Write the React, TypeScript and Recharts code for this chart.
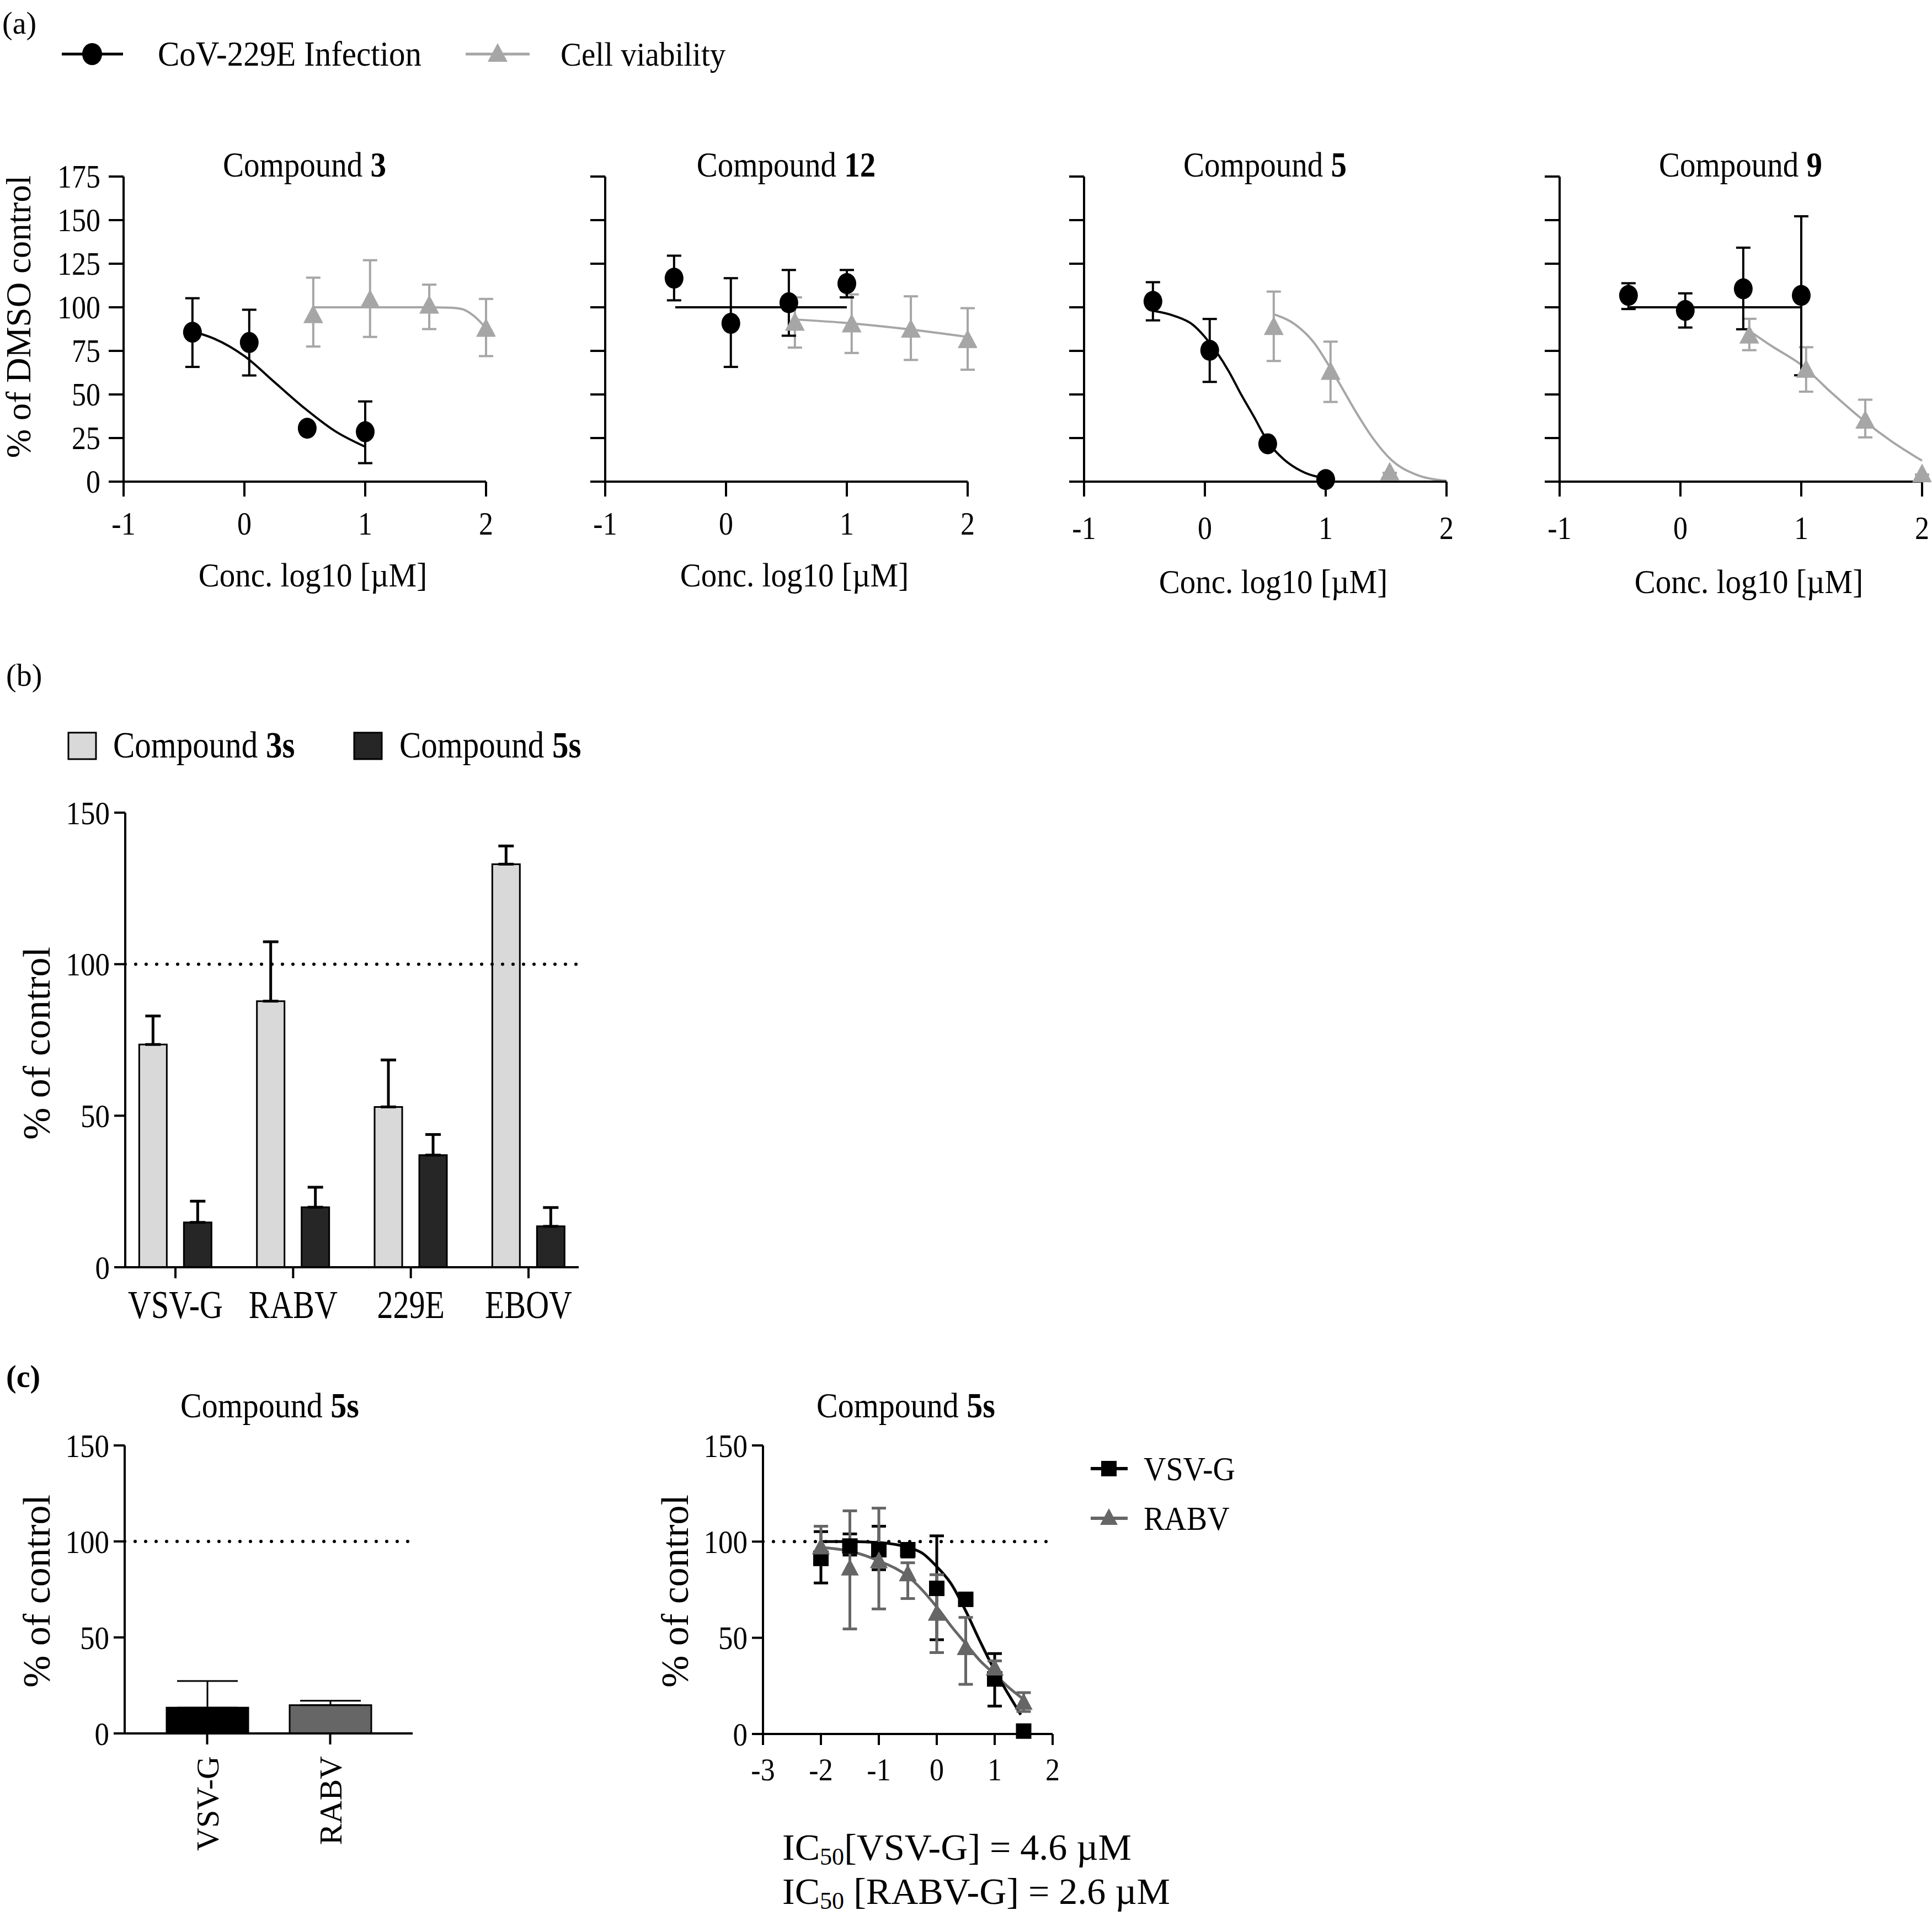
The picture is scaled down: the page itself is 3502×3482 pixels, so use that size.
import React from "react";
import {
  ComposedChart,
  Line,
  Scatter,
  Bar,
  XAxis,
  YAxis,
  ErrorBar,
  ReferenceLine,
  Cell,
} from "recharts";

const FONT = '"Liberation Serif", "Times New Roman", serif';
const GRAY = "#a6a6a6";
const DARK = "#666666";

// ---- (a) CoV-229E dose response ----
const infX = [-0.43, 0.04, 0.52, 1.0];
const viaX = [0.57, 1.04, 1.53, 2.0];

const c3Inf = [85.7, 79.8, 30.6, 28.6];
const c3InfHi = [105.2, 98.6, 30.6, 46];
const c3InfLo = [65.8, 60.9, 30.6, 10.6];
const c3Via = [95.3, 104, 100.8, 87.5];
const c3ViaHi = [117, 127, 113, 104.8];
const c3ViaLo = [77.5, 83, 87.5, 72];
const c3InfFitX = [-0.42, -0.25, 0, 0.25, 0.5, 0.75, 1.0];
const c3InfFitY = [86, 82, 72, 57, 42, 29, 20];
const c3ViaFitX = [0.57, 1.0, 1.5, 1.7, 1.8, 1.9, 2.0];
const c3ViaFitY = [100, 100, 100, 99.8, 99, 95, 88];

const c12Inf = [116.7, 90.8, 102.6, 113.6];
const c12InfHi = [129.6, 116.7, 121.4, 121.4];
const c12InfLo = [104, 65.8, 83.7, 105.7];
const c12Via = [91, 90, 87, 81];
const c12ViaHi = [105.7, 107.4, 106.3, 99.5];
const c12ViaLo = [76.9, 73.8, 69.8, 64.2];
const c12InfFitX = [-0.42, 1.0];
const c12InfFitY = [100, 100];
const c12ViaFitX = [0.57, 1.0, 1.5, 2.0];
const c12ViaFitY = [93, 91, 87.5, 83];

const c5Inf = [103.4, 75.3, 21.7, 1.2];
const c5InfHi = [114.4, 93.3, 21.7, 1.2];
const c5InfLo = [92.5, 57.2, 21.7, 1.2];
const c5ViaX = [0.57, 1.04, 1.53];
const c5Via = [88.5, 62.8, 5];
const c5ViaHi = [109, 80.3, 5];
const c5ViaLo = [69.2, 45.7, 5];
const c5InfFitX = [-0.43, -0.25, -0.1, 0, 0.1, 0.2, 0.3, 0.4, 0.53, 0.65, 0.8, 1.05];
const c5InfFitY = [98, 95, 90, 83, 74, 63, 50, 38, 22, 13, 6, 1.5];
const c5ViaFitX = [0.57, 0.75, 0.9, 1.04, 1.15, 1.25, 1.4, 1.55, 1.75, 2.0];
const c5ViaFitY = [96, 90, 80, 65, 52, 40, 24, 12, 4, 0.5];

const c9Inf = [106.8, 98.2, 110.6, 106.8];
const c9InfHi = [113.8, 108, 134.2, 152.2];
const c9InfLo = [99, 88.4, 87.4, 61];
const c9Via = [83.6, 64, 34.8, 4];
const c9ViaHi = [93.4, 77.1, 47, 4];
const c9ViaLo = [75.4, 51.6, 25.4, 4];
const c9InfFitX = [-0.42, 1.0];
const c9InfFitY = [100, 100];
const c9ViaFitX = [0.56, 0.75, 1.0, 1.25, 1.5, 1.75, 2.0];
const c9ViaFitY = [87, 78, 67, 51, 36, 23, 12];

// ---- (b) pseudovirus panel ----
const bCats = ["VSV-G", "RABV", "229E", "EBOV"];
const b3s = [73.5, 87.8, 52.9, 133];
const b3sErr = [9.4, 19.6, 15.5, 6];
const b5s = [14.8, 19.8, 37, 13.5];
const b5sErr = [7, 6.6, 6.8, 6.2];

// ---- (c) compound 5s ----
const cCats = ["VSV-G", "RABV"];
const cVals = [13.4, 14.7];
const cErr = [13.9, 2.3];
const cColors = ["#000000", DARK];

const drX = [-2, -1.5, -1, -0.5, 0, 0.5, 1, 1.5];
const vsv = [91.3, 97.7, 95.8, 95.8, 75.7, 70, 28.6, 1.5];
const vsvHi = [105.2, 104, 108, 99, 103, 72, 41.8, 1.5];
const vsvLo = [78.5, 93, 85.4, 92, 49, 68, 14.5, 1.5];
const rabv = [97, 86, 89.8, 83, 62.5, 44.6, 34, 16.2];
const rabvHi = [108, 116, 117.4, 89, 82.8, 60.6, 38, 21.5];
const rabvLo = [88, 54.6, 65, 70.4, 42.3, 25.8, 30, 11.7];
const vsvFitX = [-2, -1.5, -1, -0.5, -0.25, 0, 0.25, 0.5, 0.75, 1, 1.25, 1.45];
const vsvFitY = [100, 100, 99.5, 97, 94, 87, 78, 64, 48, 33, 20, 10];
const rabvFitX = [-2, -1.5, -1, -0.5, 0, 0.25, 0.5, 0.75, 1, 1.25, 1.5];
const rabvFitY = [97, 95, 90, 82, 66, 56, 47, 38, 31, 24, 18];

const pts = (xs: number[], ys: number[], hi: number[], lo: number[]) =>
  xs.map((x, i) => ({ x, y: ys[i], err: [ys[i] - lo[i], hi[i] - ys[i]] }));
const fit = (xs: number[], ys: number[]) => xs.map((x, i) => ({ x, y: ys[i] }));

const AX = { stroke: "#000", strokeWidth: 4 };

function mkTick(fs: number, sy: number, side: "bottom" | "left", fmt?: (v: any) => string) {
  return (p: any) => {
    const v = fmt ? fmt(p.payload.value) : String(p.payload.value);
    return (
      <g transform={`translate(${p.x},${p.y}) scale(1,${sy})`}>
        <text
          x={0}
          y={0}
          dy={side === "left" ? 0.35 * fs : 0.71 * fs}
          textAnchor={side === "left" ? "end" : "middle"}
          fontSize={fs}
          fill="#000"
          fontFamily={FONT}
        >
          {v}
        </text>
      </g>
    );
  };
}

// tick lines only, no labels
const noLabel = () => <g />;

const rotTick = (p: any) => (
  <text
    x={p.x}
    y={p.y}
    dy={0.35 * 58}
    transform={`rotate(-90, ${p.x}, ${p.y})`}
    textAnchor="end"
    fontSize={58}
    fill="#000"
    fontFamily={FONT}
  >
    {p.payload.value}
  </text>
);

const Dot = (p: any) => <ellipse cx={p.cx} cy={p.cy} rx={17} ry={19} fill="#000" />;
const Tri = (color: string, s: number) => (p: any) =>
  (
    <polygon
      points={`${p.cx},${p.cy - s} ${p.cx - s * 0.9},${p.cy + s * 0.7} ${p.cx + s * 0.9},${p.cy + s * 0.7}`}
      fill={color}
    />
  );
const Sq = (p: any) => <rect x={p.cx - 14} y={p.cy - 14} width={28} height={28} fill="#000" />;

function Txt(props: {
  x: number;
  y: number;
  fs: number;
  sy?: number;
  anchor?: "start" | "middle";
  rotate?: boolean;
  bold?: boolean;
  children: React.ReactNode;
}) {
  const { x, y, fs, sy = 1, anchor = "start", rotate, bold, children } = props;
  const tx = anchor === "middle" || rotate ? "-50%" : "0";
  return (
    <div
      style={{
        position: "absolute",
        left: x,
        top: y,
        fontSize: fs,
        lineHeight: 1,
        whiteSpace: "nowrap",
        fontWeight: bold ? "bold" : "normal",
        transform: `translate(${tx}, -50%) ${rotate ? "rotate(-90deg)" : ""} scale(1, ${sy})`,
      }}
    >
      {children}
    </div>
  );
}

function DoseChart(props: {
  left: number;
  inf: any[];
  infFit: any[];
  via: any[];
  viaFit: any[];
  labels: boolean;
  gap: number;
}) {
  const ML = 140,
    MT = 40,
    MR = 17,
    MB = 150;
  const W = 657,
    H = 553;
  return (
    <div style={{ position: "absolute", left: props.left - ML, top: 320 - MT }}>
      <ComposedChart
        width={W + ML + MR}
        height={H + MT + MB}
        margin={{ top: MT, right: MR, left: 0, bottom: 0 }}
      >
        <XAxis
          type="number"
          dataKey="x"
          domain={[-1, 2]}
          ticks={[-1, 0, 1, 2]}
          interval={0}
          height={MB}
          tickSize={27}
          tickMargin={props.gap}
          axisLine={AX}
          tickLine={AX}
          tick={mkTick(52, 1.12, "bottom")}
        />
        <YAxis
          type="number"
          dataKey="y"
          domain={[0, 175]}
          ticks={[0, 25, 50, 75, 100, 125, 150, 175]}
          interval={0}
          width={ML}
          tickSize={27}
          tickMargin={15}
          axisLine={AX}
          tickLine={AX}
          tick={props.labels ? mkTick(52, 1.12, "left") : noLabel}
        />
        <Line
          data={props.viaFit}
          dataKey="y"
          type="monotone"
          stroke={GRAY}
          strokeWidth={4}
          dot={false}
          isAnimationActive={false}
        />
        <Line
          data={props.infFit}
          dataKey="y"
          type="monotone"
          stroke="#000"
          strokeWidth={4}
          dot={false}
          isAnimationActive={false}
        />
        <Scatter data={props.via} dataKey="y" shape={Tri(GRAY, 20)} isAnimationActive={false}>
          <ErrorBar dataKey="err" direction="y" width={13} stroke={GRAY} strokeWidth={4} />
        </Scatter>
        <Scatter data={props.inf} dataKey="y" shape={Dot} isAnimationActive={false}>
          <ErrorBar dataKey="err" direction="y" width={13} stroke="#000" strokeWidth={4} />
        </Scatter>
      </ComposedChart>
    </div>
  );
}

const bData = bCats.map((c, i) => ({
  x: i,
  a: b3s[i],
  ea: [0, b3sErr[i]],
  b: b5s[i],
  eb: [0, b5sErr[i]],
}));

const cData = cCats.map((c, i) => ({ name: c, v: cVals[i], e: [0, cErr[i]] }));

const doseLefts = [224, 1097, 1965, 2827];
const doseTitles = ["3", "12", "5", "9"];

const subStyle = { fontSize: "0.65em", verticalAlign: "-0.2em", lineHeight: 0 };

export default function App() {
  const aCharts = [
    {
      inf: pts(infX, c3Inf, c3InfHi, c3InfLo),
      via: pts(viaX, c3Via, c3ViaHi, c3ViaLo),
      infFit: fit(c3InfFitX, c3InfFitY),
      viaFit: fit(c3ViaFitX, c3ViaFitY),
    },
    {
      inf: pts(infX, c12Inf, c12InfHi, c12InfLo),
      via: pts(viaX, c12Via, c12ViaHi, c12ViaLo),
      infFit: fit(c12InfFitX, c12InfFitY),
      viaFit: fit(c12ViaFitX, c12ViaFitY),
    },
    {
      inf: pts(infX, c5Inf, c5InfHi, c5InfLo),
      via: pts(c5ViaX, c5Via, c5ViaHi, c5ViaLo),
      infFit: fit(c5InfFitX, c5InfFitY),
      viaFit: fit(c5ViaFitX, c5ViaFitY),
    },
    {
      inf: pts(infX, c9Inf, c9InfHi, c9InfLo),
      via: pts(viaX, c9Via, c9ViaHi, c9ViaLo),
      infFit: fit(c9InfFitX, c9InfFitY),
      viaFit: fit(c9ViaFitX, c9ViaFitY),
    },
  ];

  const vsvPts = pts(drX, vsv, vsvHi, vsvLo);
  const rabvPts = pts(drX, rabv, rabvHi, rabvLo);

  return (
    <div
      style={{
        position: "fixed",
        left: 0,
        top: 0,
        width: 3502,
        height: 3482,
        overflow: "hidden",
        background: "#fff",
        fontFamily: FONT,
        color: "#000",
      }}
    >
      {/* ---------- (a) ---------- */}
      <Txt x={4} y={42} fs={56}>(a)</Txt>
      <svg style={{ position: "absolute", left: 0, top: 0 }} width={1100} height={160}>
        <line x1={112} y1={98} x2={223} y2={98} stroke="#000" strokeWidth={5} />
        <ellipse cx={167} cy={98} rx={18} ry={20} fill="#000" />
        <line x1={844} y1={98} x2={960} y2={98} stroke={GRAY} strokeWidth={5} />
        <polygon points="902,78 884,112 920,112" fill={GRAY} />
      </svg>
      <Txt x={286} y={98} fs={59} sy={1.08}>CoV-229E Infection</Txt>
      <Txt x={1016} y={98} fs={57} sy={1.08}>Cell viability</Txt>

      {aCharts.map((c, i) => (
        <React.Fragment key={i}>
          <Txt x={doseLefts[i] + 328} y={299} fs={57} sy={1.1} anchor="middle">
            Compound <b>{doseTitles[i]}</b>
          </Txt>
          <DoseChart
            left={doseLefts[i]}
            inf={c.inf}
            via={c.via}
            infFit={c.infFit}
            viaFit={c.viaFit}
            labels={i === 0}
            gap={i < 2 ? 28 : 36}
          />
          <Txt x={doseLefts[i] + 343} y={i < 2 ? 1042 : 1054} fs={57} sy={1.06} anchor="middle">
            Conc. log10 [µM]
          </Txt>
        </React.Fragment>
      ))}
      <Txt x={34} y={574} fs={63} rotate>
        % of DMSO control
      </Txt>

      {/* ---------- (b) ---------- */}
      <Txt x={11} y={1224} fs={56}>(b)</Txt>
      <svg style={{ position: "absolute", left: 0, top: 1300 }} width={760} height={100}>
        <rect x={124} y={28} width={50} height={48} fill="#d9d9d9" stroke="#000" strokeWidth={3} />
        <rect x={642} y={28} width={50} height={48} fill="#262626" stroke="#000" strokeWidth={3} />
      </svg>
      <Txt x={205} y={1351} fs={59} sy={1.15}>
        Compound <b>3s</b>
      </Txt>
      <Txt x={724} y={1351} fs={59} sy={1.15}>
        Compound <b>5s</b>
      </Txt>
      <div style={{ position: "absolute", left: 227 - 130, top: 1473 - 40 }}>
        <ComposedChart
          width={822 + 130 + 20}
          height={824 + 40 + 120}
          margin={{ top: 40, right: 20, left: 0, bottom: 0 }}
          data={bData}
          barSize={50}
          barGap={31}
        >
          <XAxis
            type="number"
            dataKey="x"
            domain={[-0.4266, 3.4266]}
            ticks={[0, 1, 2, 3]}
            interval={0}
            height={120}
            tickSize={20}
            tickMargin={21}
            axisLine={AX}
            tickLine={AX}
            tick={mkTick(58, 1.25, "bottom", (v) => bCats[v])}
          />
          <YAxis
            type="number"
            domain={[0, 150]}
            ticks={[0, 50, 100, 150]}
            interval={0}
            width={130}
            tickSize={20}
            tickMargin={8}
            axisLine={AX}
            tickLine={AX}
            tick={mkTick(53, 1.12, "left")}
          />
          <ReferenceLine y={100} stroke="#000" strokeWidth={6} strokeDasharray="0 19" strokeLinecap="round" />
          <Bar dataKey="a" fill="#d9d9d9" stroke="#000" strokeWidth={3} isAnimationActive={false}>
            <ErrorBar dataKey="ea" direction="y" width={14} stroke="#000" strokeWidth={5} />
          </Bar>
          <Bar dataKey="b" fill="#262626" stroke="#000" strokeWidth={3} isAnimationActive={false}>
            <ErrorBar dataKey="eb" direction="y" width={14} stroke="#000" strokeWidth={5} />
          </Bar>
        </ComposedChart>
      </div>
      <Txt x={67} y={1891} fs={70} rotate>
        % of control
      </Txt>

      {/* ---------- (c) ---------- */}
      <Txt x={11} y={2495} fs={56} bold>(c)</Txt>
      <Txt x={489} y={2548} fs={58} sy={1.1} anchor="middle">
        Compound <b>5s</b>
      </Txt>
      <div style={{ position: "absolute", left: 226 - 130, top: 2620 - 40 }}>
        <ComposedChart
          width={522 + 130 + 20}
          height={522 + 40 + 260}
          margin={{ top: 40, right: 20, left: 0, bottom: 0 }}
          data={cData}
          barSize={148}
        >
          <XAxis
            type="category"
            dataKey="name"
            padding={{ left: 38, right: 38 }}
            interval={0}
            height={260}
            tickSize={20}
            tickMargin={21}
            axisLine={AX}
            tickLine={AX}
            tick={rotTick}
          />
          <YAxis
            type="number"
            domain={[0, 150]}
            ticks={[0, 50, 100, 150]}
            interval={0}
            width={130}
            tickSize={20}
            tickMargin={8}
            axisLine={AX}
            tickLine={AX}
            tick={mkTick(53, 1.12, "left")}
          />
          <ReferenceLine y={100} stroke="#000" strokeWidth={6} strokeDasharray="0 19" strokeLinecap="round" />
          <Bar dataKey="v" stroke="#000" strokeWidth={3} isAnimationActive={false}>
            {cData.map((d, i) => (
              <Cell key={d.name} fill={cColors[i]} />
            ))}
            <ErrorBar dataKey="e" direction="y" width={55} stroke="#000" strokeWidth={3} />
          </Bar>
        </ComposedChart>
      </div>
      <Txt x={67} y={2884} fs={70} rotate>
        % of control
      </Txt>

      <Txt x={1642} y={2548} fs={58} sy={1.1} anchor="middle">
        Compound <b>5s</b>
      </Txt>
      <div style={{ position: "absolute", left: 1383 - 130, top: 2620 - 40 }}>
        <ComposedChart
          width={525 + 130 + 30}
          height={523 + 40 + 120}
          margin={{ top: 40, right: 30, left: 0, bottom: 0 }}
        >
          <XAxis
            type="number"
            dataKey="x"
            domain={[-3, 2]}
            ticks={[-3, -2, -1, 0, 1, 2]}
            interval={0}
            height={120}
            tickSize={20}
            tickMargin={23}
            axisLine={AX}
            tickLine={AX}
            tick={mkTick(52, 1.1, "bottom")}
          />
          <YAxis
            type="number"
            dataKey="y"
            domain={[0, 150]}
            ticks={[0, 50, 100, 150]}
            interval={0}
            width={130}
            tickSize={20}
            tickMargin={8}
            axisLine={AX}
            tickLine={AX}
            tick={mkTick(53, 1.12, "left")}
          />
          <ReferenceLine y={100} stroke="#000" strokeWidth={6} strokeDasharray="0 19" strokeLinecap="round" />
          <Line
            data={fit(rabvFitX, rabvFitY)}
            dataKey="y"
            type="monotone"
            stroke={DARK}
            strokeWidth={5}
            dot={false}
            isAnimationActive={false}
          />
          <Line
            data={fit(vsvFitX, vsvFitY)}
            dataKey="y"
            type="monotone"
            stroke="#000"
            strokeWidth={5}
            dot={false}
            isAnimationActive={false}
          />
          <Scatter data={vsvPts} dataKey="y" shape={Sq} isAnimationActive={false}>
            <ErrorBar dataKey="err" direction="y" width={13} stroke="#000" strokeWidth={5} />
          </Scatter>
          <Scatter data={rabvPts} dataKey="y" shape={Tri(DARK, 18)} isAnimationActive={false}>
            <ErrorBar dataKey="err" direction="y" width={13} stroke={DARK} strokeWidth={5} />
          </Scatter>
        </ComposedChart>
      </div>
      <Txt x={1224} y={2884} fs={70} rotate>
        % of control
      </Txt>
      <svg style={{ position: "absolute", left: 1950, top: 2600 }} width={120} height={200}>
        <line x1={27} y1={62} x2={94} y2={62} stroke="#000" strokeWidth={6} />
        <rect x={46} y={48} width={28} height={28} fill="#000" />
        <line x1={27} y1={152} x2={94} y2={152} stroke={DARK} strokeWidth={6} />
        <polygon points="60,134 44,164 76,164" fill={DARK} />
      </svg>
      <Txt x={2073} y={2662} fs={56} sy={1.1}>VSV-G</Txt>
      <Txt x={2073} y={2752} fs={56} sy={1.1}>RABV</Txt>

      <Txt x={1418} y={3348} fs={68}>
        IC<span style={subStyle}>50</span>[VSV-G] = 4.6 µM
      </Txt>
      <Txt x={1418} y={3428} fs={68}>
        IC<span style={subStyle}>50</span> [RABV-G] = 2.6 µM
      </Txt>
    </div>
  );
}
